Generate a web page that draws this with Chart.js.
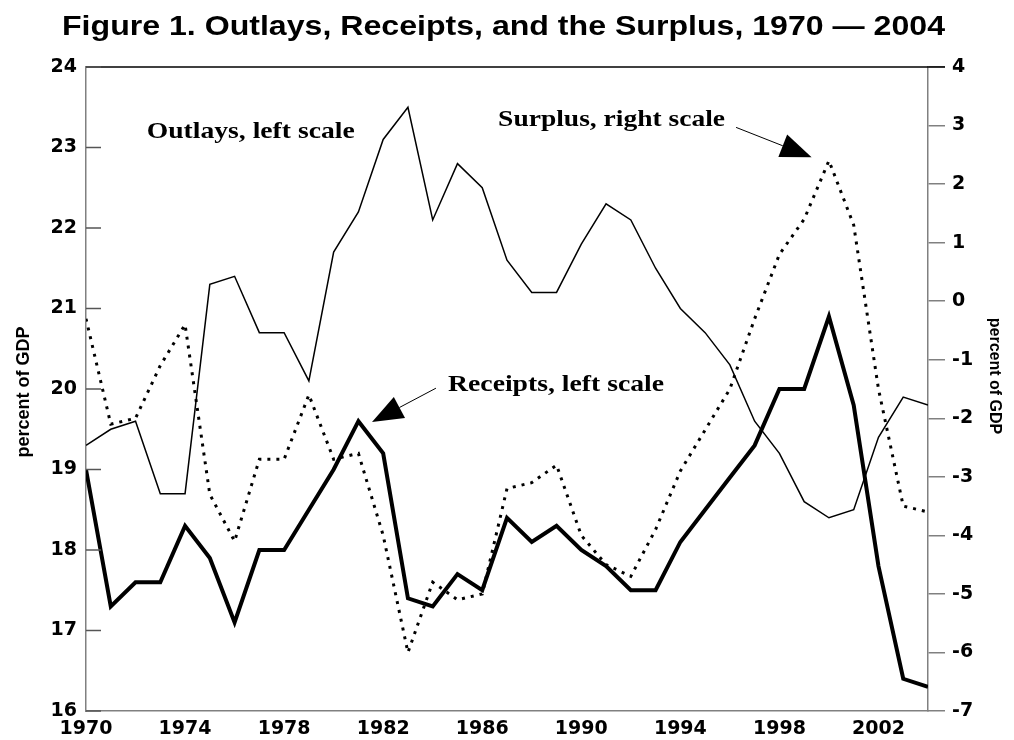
<!DOCTYPE html>
<html>
<head>
<meta charset="utf-8">
<script src="https://cdn.jsdelivr.net/npm/chart.js@4.4.0/dist/chart.umd.min.js"></script>
<style>
  body { margin: 0; background: #fff; }
</style>
</head>
<body>
<canvas id="chart" width="1014" height="740"></canvas>
<script>
// Data (percent of GDP)
const years = [1970, 1971, 1972, 1973, 1974, 1975, 1976, 1977, 1978, 1979,
               1980, 1981, 1982, 1983, 1984, 1985, 1986, 1987, 1988, 1989,
               1990, 1991, 1992, 1993, 1994, 1995, 1996, 1997, 1998, 1999,
               2000, 2001, 2002, 2003, 2004];
const outlays = [19.3, 19.5, 19.6, 18.7, 18.7, 21.3, 21.4, 20.7, 20.7, 20.1,
                 21.7, 22.2, 23.1, 23.5, 22.1, 22.8, 22.5, 21.6, 21.2, 21.2,
                 21.8, 22.3, 22.1, 21.5, 21.0, 20.7, 20.3, 19.6, 19.2, 18.6,
                 18.4, 18.5, 19.4, 19.9, 19.8];
const receipts = [19.0, 17.3, 17.6, 17.6, 18.3, 17.9, 17.1, 18.0, 18.0, 18.5,
                  19.0, 19.6, 19.2, 17.4, 17.3, 17.7, 17.5, 18.4, 18.1, 18.3,
                  18.0, 17.8, 17.5, 17.5, 18.1, 18.5, 18.9, 19.3, 20.0, 20.0,
                  20.9, 19.8, 17.8, 16.4, 16.3];
const surplus = [-0.3, -2.1, -2.0, -1.1, -0.4, -3.3, -4.1, -2.7, -2.7, -1.6,
                 -2.7, -2.6, -4.0, -6.0, -4.8, -5.1, -5.0, -3.2, -3.1, -2.8,
                 -4.0, -4.5, -4.7, -3.9, -2.9, -2.2, -1.5, -0.3, 0.8, 1.4,
                 2.4, 1.3, -1.5, -3.5, -3.6];

const xTicks = [1970, 1974, 1978, 1982, 1986, 1990, 1994, 1998, 2002];
const leftTicks = [16, 17, 18, 19, 20, 21, 22, 23, 24];
const rightTicks = [-7, -6, -5, -4, -3, -2, -1, 0, 1, 2, 3, 4];

const titleText = 'Figure 1. Outlays, Receipts, and the Surplus, 1970 \u2014 2004';
const axisLabel = 'percent of GDP';

// text notes anchored in data units (year, left-scale value)
const notes = [
  { text: 'Outlays, left scale',  x: 1972.45, y: 23.12, w: 208 },
  { text: 'Surplus, right scale', x: 1986.64, y: 23.27, w: 227 },
  { text: 'Receipts, left scale', x: 1984.62, y: 19.98, w: 216 }
];
const arrows = [
  { from: [1996.25, 23.25], to: [1999.3, 22.88] },
  { from: [1984.13, 20.01], to: [1981.55, 19.59] }
];

const pts = arr => years.map((yr, i) => ({ x: yr, y: arr[i] }));
const tickFont = { family: '"DejaVu Sans", Arial, sans-serif', weight: 'bold', size: 19 };
const grey = '#808080';

const decorations = {
  id: 'decorations',
  afterDraw(chart) {
    const ctx = chart.ctx;
    const area = chart.chartArea;
    const sx = chart.scales.x, sy = chart.scales.y;
    ctx.save();

    // top frame line (runs to end of right tick)
    ctx.strokeStyle = '#000';
    ctx.lineWidth = 1.5;
    ctx.beginPath();
    ctx.moveTo(area.left, area.top);
    ctx.lineTo(area.right + 17, area.top);
    ctx.stroke();

    // inward ticks on left axis
    ctx.strokeStyle = '#555';
    ctx.lineWidth = 1.5;
    leftTicks.forEach(v => {
      const py = sy.getPixelForValue(v);
      ctx.beginPath();
      ctx.moveTo(area.left, py);
      ctx.lineTo(area.left + 15, py);
      ctx.stroke();
    });

    // title
    ctx.fillStyle = '#000';
    ctx.font = 'bold 28px "Liberation Sans", Arial, sans-serif';
    ctx.textBaseline = 'alphabetic';
    ctx.textAlign = 'left';
    let tw = ctx.measureText(titleText).width;
    ctx.save();
    ctx.translate(62, 35);
    ctx.scale(883 / tw, 1);
    ctx.fillText(titleText, 0, 0);
    ctx.restore();

    // axis titles
    ctx.save();
    ctx.font = 'bold 18px "Liberation Sans", Arial, sans-serif';
    ctx.textAlign = 'center';
    ctx.translate(29, 392);
    ctx.rotate(-Math.PI / 2);
    ctx.fillText(axisLabel, 0, 0);
    ctx.restore();

    ctx.save();
    ctx.font = 'bold 16px "Liberation Sans", Arial, sans-serif';
    ctx.textAlign = 'center';
    ctx.translate(990, 376);
    ctx.rotate(Math.PI / 2);
    ctx.fillText(axisLabel, 0, 0);
    ctx.restore();

    // series notes
    ctx.font = 'bold 23px "Liberation Serif", "Times New Roman", serif';
    notes.forEach(n => {
      const w = ctx.measureText(n.text).width;
      ctx.save();
      ctx.translate(sx.getPixelForValue(n.x), sy.getPixelForValue(n.y));
      ctx.scale(n.w / w, 1);
      ctx.fillText(n.text, 0, 0);
      ctx.restore();
    });

    // arrows
    arrows.forEach(a => {
      const x0 = sx.getPixelForValue(a.from[0]), y0 = sy.getPixelForValue(a.from[1]);
      const x1 = sx.getPixelForValue(a.to[0]), y1 = sy.getPixelForValue(a.to[1]);
      const ang = Math.atan2(y1 - y0, x1 - x0);
      const headLen = 31, headHalf = 12;
      const bx = x1 - headLen * Math.cos(ang), by = y1 - headLen * Math.sin(ang);
      ctx.strokeStyle = '#000';
      ctx.lineWidth = 1;
      ctx.beginPath();
      ctx.moveTo(x0, y0);
      ctx.lineTo(bx, by);
      ctx.stroke();
      ctx.beginPath();
      ctx.moveTo(x1, y1);
      ctx.lineTo(bx + headHalf * Math.sin(ang), by - headHalf * Math.cos(ang));
      ctx.lineTo(bx - headHalf * Math.sin(ang), by + headHalf * Math.cos(ang));
      ctx.closePath();
      ctx.fillStyle = '#000';
      ctx.fill();
    });

    ctx.restore();
  }
};

new Chart(document.getElementById('chart'), {
  type: 'line',
  data: {
    datasets: [
      {
        label: 'Receipts',
        data: pts(receipts),
        yAxisID: 'y',
        borderColor: '#000',
        borderWidth: 4,
        borderJoinStyle: 'miter'
      },
      {
        label: 'Outlays',
        data: pts(outlays),
        yAxisID: 'y',
        borderColor: '#000',
        borderWidth: 1.5
      },
      {
        label: 'Surplus',
        data: pts(surplus),
        yAxisID: 'y1',
        borderColor: '#000',
        borderWidth: 3,
        borderDash: [3, 6],
        borderCapStyle: 'butt'
      }
    ]
  },
  options: {
    responsive: false,
    animation: false,
    events: [],
    layout: { padding: { top: 67, left: 0, right: 0, bottom: 0 } },
    elements: { point: { radius: 0 }, line: { tension: 0, fill: false } },
    plugins: {
      legend: { display: false },
      title: { display: false },
      tooltip: { enabled: false }
    },
    scales: {
      x: {
        type: 'linear',
        min: 1970,
        max: 2004,
        afterBuildTicks: s => { s.ticks = xTicks.map(v => ({ value: v })); },
        afterFit: s => { s.height = 29; },
        grid: { display: false, drawTicks: false },
        border: { display: true, color: grey, width: 1.5 },
        ticks: { font: tickFont, color: '#000', padding: 7, maxRotation: 0, autoSkip: false,
                 callback: v => String(v) }
      },
      y: {
        position: 'left',
        min: 16,
        max: 24,
        afterBuildTicks: s => { s.ticks = leftTicks.map(v => ({ value: v })); },
        afterFit: s => { s.width = 86; },
        grid: { display: false, drawTicks: false },
        border: { display: true, color: grey, width: 1.5 },
        ticks: { font: tickFont, color: '#000', padding: 9 }
      },
      y1: {
        position: 'right',
        min: -7,
        max: 4,
        afterBuildTicks: s => { s.ticks = rightTicks.map(v => ({ value: v })); },
        afterFit: s => { s.width = 86; },
        grid: { display: true, drawOnChartArea: false, drawTicks: true, tickLength: 17,
                color: grey, lineWidth: 1.5 },
        border: { display: true, color: grey, width: 1.5 },
        ticks: { font: tickFont, color: '#000', padding: 7 }
      }
    }
  },
  plugins: [decorations]
});
</script>
</body>
</html>
